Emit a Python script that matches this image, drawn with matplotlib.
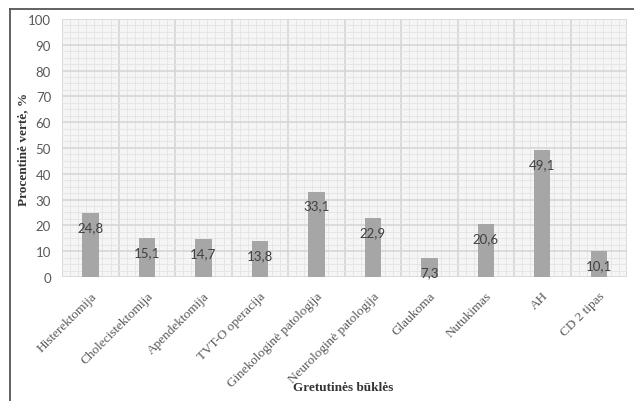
import matplotlib
matplotlib.use("Agg")
import matplotlib.pyplot as plt
from matplotlib.lines import Line2D
from matplotlib.ticker import MultipleLocator

conditions = ["Histerektomija", "Cholecistektomija", "Apendektomija", "TVT-O operacija",
              "Ginekologinė patologija", "Neurologinė patologija", "Glaukoma",
              "Nutukimas", "AH", "CD 2 tipas"]
percents = [24.8, 15.1, 14.7, 13.8, 33.1, 22.9, 7.3, 20.6, 49.1, 10.1]

fig = plt.figure(figsize=(6.34, 4.02), dpi=100)
ax = fig.add_axes([0.098, 0.3085, 0.891, 0.642])

# outer frame: top and left edges
fig.lines.append(Line2D([0.0165, 0.0165], [0.0, 0.974], transform=fig.transFigure,
                        color="#555555", linewidth=1.3))
fig.lines.append(Line2D([0.0165, 1.0], [0.974, 0.974], transform=fig.transFigure,
                        color="#555555", linewidth=1.3))

ax.set_facecolor("#f5f5f5")
x = range(len(conditions))
bars = ax.bar(x, percents, width=0.29, color="#a6a6a6", zorder=3)

for xi, v in zip(x, percents):
    ax.annotate(f"{v:.1f}".replace(".", ","), (xi, v), xytext=(0, -10),
                textcoords="offset points", ha="center", va="center",
                fontsize=9.5, family="Lato", color="#404040", zorder=4)

ax.set_xlim(-0.5, len(conditions) - 0.5)
ax.set_ylim(0, 100)
ax.yaxis.set_major_locator(MultipleLocator(10))
ax.yaxis.set_minor_locator(MultipleLocator(2.5))
ax.set_xticks(list(x))
ax.set_xticks([i - 0.5 + k / 7 for i in x for k in range(1, 7)], minor=True)

ax.grid(which="minor", color="#e4e4e4", linewidth=0.6, zorder=0)
ax.grid(which="major", axis="y", color="#d6d6d6", linewidth=1.2, zorder=1)
for b in range(len(conditions) + 1):
    ax.axvline(b - 0.5, color="#d6d6d6", linewidth=1.2, zorder=1)

for s in ax.spines.values():
    s.set_visible(False)
ax.tick_params(which="both", length=0)
ax.tick_params(axis="y", labelsize=9.5, labelcolor="#595959", pad=8)
for lab in ax.get_yticklabels():
    lab.set_family("Lato")

ax.set_xticklabels(conditions, rotation=45, ha="right", rotation_mode="anchor",
                   family="Liberation Serif", fontsize=9.5, color="#595959")
ax.tick_params(axis="x", pad=9)

ax.set_ylabel("Procentinė vertė, %", family="Liberation Serif", fontweight="bold",
              fontsize=9.5, color="#333333")
ax.yaxis.set_label_coords(-0.059, 0.5)
fig.text(0.541, 0.035, "Gretutinės būklės", family="Liberation Serif",
         fontweight="bold", fontsize=9.5, color="#333333", ha="center", va="center")

fig.savefig("out.png", dpi=100)
